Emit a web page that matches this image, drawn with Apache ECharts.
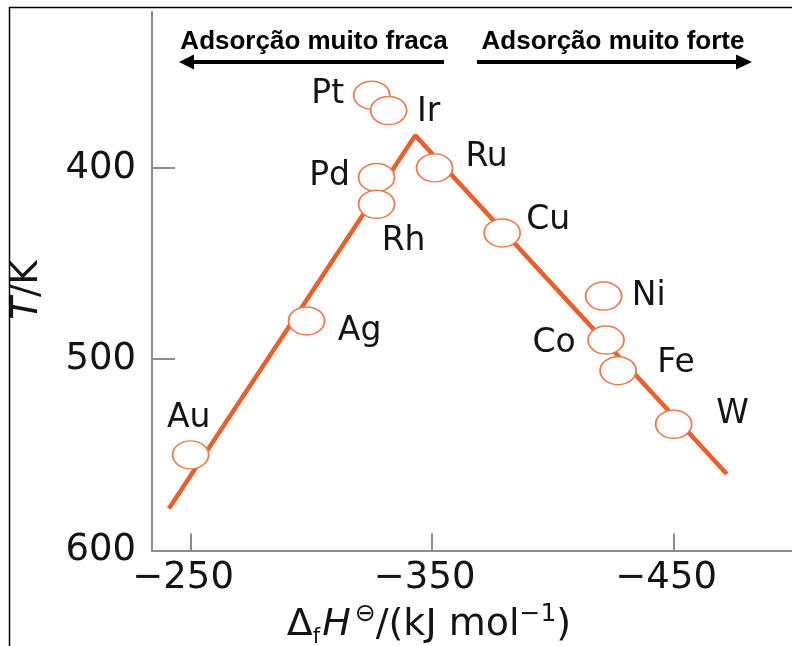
<!DOCTYPE html>
<html>
<head>
<meta charset="utf-8">
<title>Volcano plot</title>
<script src="https://cdn.jsdelivr.net/npm/echarts@6/dist/echarts.min.js"></script>
<style>
  html, body { margin: 0; padding: 0; background: #fff; }
  #chart { width: 792px; height: 646px; }
</style>
</head>
<body>
<div id="chart"></div>
<script>
// Metals and their formation enthalpy / temperature
const elements = ['Pt', 'Ir', 'Pd', 'Rh', 'Ru', 'Cu', 'Ni', 'Co', 'Fe', 'W', 'Ag', 'Au'];
const enthalpy = [-325, -332, -327, -327, -351, -379, -421, -422, -427, -450, -298, -250];
const temperature = [362, 370, 405, 419, 400, 434, 467, 490, 506, 534, 480, 550];

// Two-branch trend line (vertices)
const fitEnthalpy = [-241, -343, -472];
const fitTemperature = [578, 383, 560];

// Axis ticks
const xTicks = [-250, -350, -450];
const yTicks = [400, 500, 600];

// Where each element's name sits relative to its marker
const labelOffset = {
  Pt: [-44, -1], Ir: [40, 2], Pd: [-47, -1], Rh: [27, 37], Ru: [52, -10],
  Cu: [46, -13], Ni: [45, 0], Co: [-52, 3], Fe: [58, -7], W: [59, -10],
  Ag: [53, 10], Au: [-2, -36]
};

const FONT = 'DejaVu Sans';
const TEXT = '#141414';
const AXIS = '#8c8c8c';
const ORANGE = '#e8612c';
const RING = '#ec7a50';
const ellipse = 'path://M0,50 A50,50 0 1,1 100,50 A50,50 0 1,1 0,50 Z';

const points = elements.map((name, i) => ({
  name: name,
  value: [enthalpy[i], temperature[i]],
  label: { offset: labelOffset[name] }
}));
const fitLine = fitEnthalpy.map((x, i) => [x, fitTemperature[i]]);

const chart = echarts.init(document.getElementById('chart'), null, { renderer: 'canvas' });

chart.setOption({
  backgroundColor: '#ffffff',
  animation: false,
  grid: { left: 152, right: 0, top: 12, bottom: 95.5, containLabel: false },
  xAxis: {
    type: 'value',
    inverse: true,
    min: -499,
    max: -234,
    splitLine: { show: false },
    axisLine: { onZero: false, lineStyle: { color: AXIS, width: 2 } },
    axisTick: { inside: true, length: 17, customValues: xTicks, lineStyle: { color: AXIS, width: 2 } },
    axisLabel: {
      customValues: xTicks,
      margin: 9,
      padding: [0, 15, 0, 0],
      fontFamily: FONT,
      fontSize: 37,
      color: TEXT,
      formatter: v => String(v).replace('-', '\u2212')
    }
  },
  yAxis: {
    type: 'value',
    inverse: true,
    min: 318.5,
    max: 600,
    splitLine: { show: false },
    axisLine: { onZero: false, lineStyle: { color: AXIS, width: 2 } },
    axisTick: { inside: true, length: 23, customValues: yTicks, lineStyle: { color: AXIS, width: 2 } },
    axisLabel: {
      customValues: yTicks,
      margin: 16,
      fontFamily: FONT,
      fontSize: 37,
      color: TEXT
    }
  },
  series: [
    {
      type: 'line',
      data: fitLine,
      symbol: 'none',
      silent: true,
      z: 1,
      lineStyle: { color: ORANGE, width: 4.5, cap: 'butt' }
    },
    {
      type: 'scatter',
      data: points,
      z: 2,
      symbol: ellipse,
      symbolSize: [36, 28],
      itemStyle: { color: '#ffffff', borderColor: RING, borderWidth: 1.6, opacity: 1 },
      label: {
        show: true,
        position: 'inside',
        formatter: p => p.name,
        fontFamily: FONT,
        fontSize: 33,
        color: TEXT
      }
    }
  ],
  graphic: [
    // outer frame (top and left edges)
    {
      type: 'line',
      shape: { x1: 9, y1: 7.5, x2: 792, y2: 7.5 },
      style: { stroke: '#000', lineWidth: 1.5 },
      silent: true
    },
    {
      type: 'line',
      shape: { x1: 9.5, y1: 7, x2: 9.5, y2: 646 },
      style: { stroke: '#000', lineWidth: 1.5 },
      silent: true
    },
    // y-axis title
    {
      type: 'text',
      x: 27, y: 290,
      rotation: Math.PI / 2,
      style: {
        text: '{i|T}{n|/K}',
        align: 'center',
        verticalAlign: 'middle',
        rich: {
          n: { fontFamily: FONT, fontSize: 37, fill: TEXT },
          i: { fontFamily: FONT, fontSize: 37, fontStyle: 'italic', fill: TEXT }
        }
      }
    },
    // adsorption direction captions
    {
      type: 'text',
      x: 314, y: 42,
      style: {
        text: 'Adsorção muito fraca',
        font: 'bold 26px "Liberation Sans", Arial, sans-serif',
        fill: '#000', align: 'center', verticalAlign: 'middle'
      }
    },
    {
      type: 'text',
      x: 613, y: 42,
      style: {
        text: 'Adsorção muito forte',
        font: 'bold 26px "Liberation Sans", Arial, sans-serif',
        fill: '#000', align: 'center', verticalAlign: 'middle'
      }
    },
    // left arrow
    {
      type: 'line',
      shape: { x1: 192, y1: 62, x2: 444, y2: 62 },
      style: { stroke: '#000', lineWidth: 4 }
    },
    {
      type: 'polygon',
      shape: { points: [[179, 62], [194, 54.5], [194, 69.5]] },
      style: { fill: '#000' }
    },
    // right arrow
    {
      type: 'line',
      shape: { x1: 477, y1: 62, x2: 738, y2: 62 },
      style: { stroke: '#000', lineWidth: 4 }
    },
    {
      type: 'polygon',
      shape: { points: [[752, 62], [736, 54.5], [736, 69.5]] },
      style: { fill: '#000' }
    },
    // x-axis title
    {
      type: 'text',
      x: 429, y: 625,
      style: {
        text: '{n|Δ}{s|f}{i|H}{p|⊖}{n|/(kJ mol}{p|−1}{n|)}',
        align: 'center',
        verticalAlign: 'middle',
        fill: TEXT,
        rich: {
          n: { fontFamily: FONT, fontSize: 38, fill: TEXT },
          i: { fontFamily: FONT, fontSize: 38, fontStyle: 'italic', fill: TEXT, padding: [0, 4, 0, 0] },
          s: { fontFamily: FONT, fontSize: 21, fill: TEXT, verticalAlign: 'bottom', padding: [20, 2, 0, 0] },
          p: { fontFamily: FONT, fontSize: 25, fill: TEXT, verticalAlign: 'top', padding: [0, 0, 22, 0] }
        }
      }
    }
  ]
});
</script>
</body>
</html>
